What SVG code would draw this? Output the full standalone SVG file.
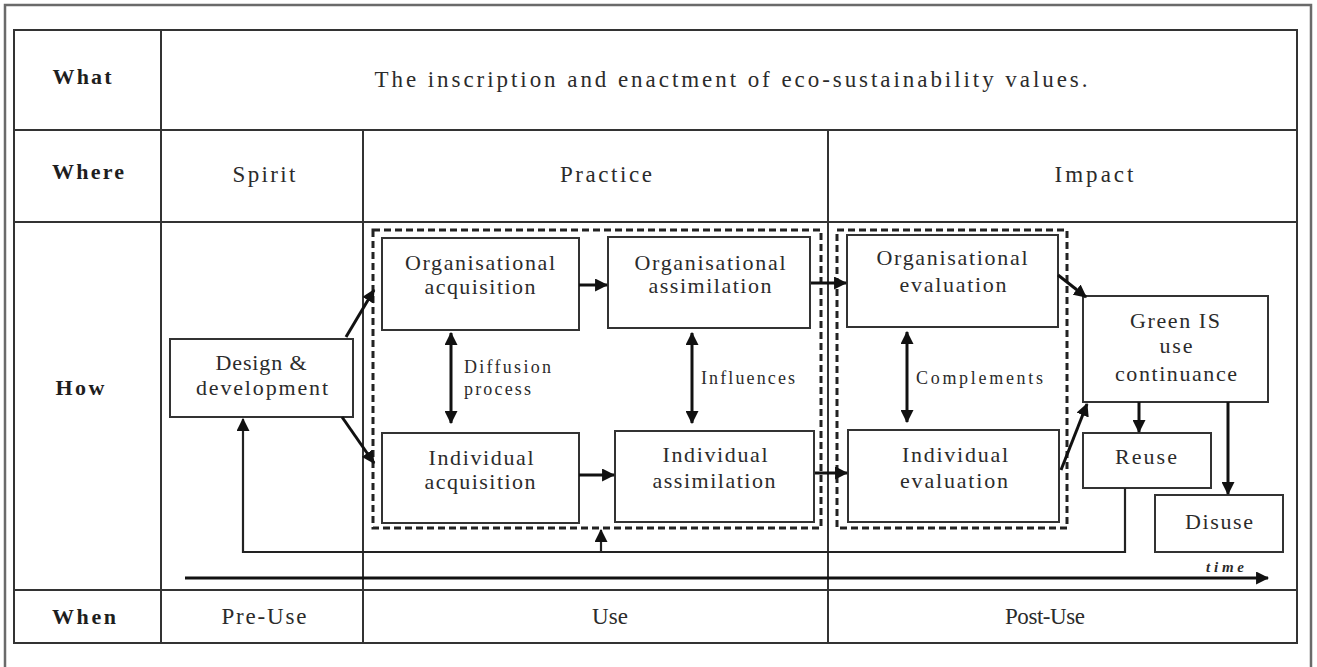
<svg xmlns="http://www.w3.org/2000/svg" width="1317" height="667" viewBox="0 0 1317 667">
  <style>
    .frame { fill: none; stroke: #6a6a6a; stroke-width: 2.5; }
    .grid { fill: none; stroke: #333; stroke-width: 2; }
    .box { fill: #fff; stroke: #333; stroke-width: 2; }
    .dash { fill: none; stroke: #222; stroke-width: 3; stroke-dasharray: 7 4; }
    .arrow { fill: none; stroke: #111; stroke-width: 3; }
    .thin { fill: none; stroke: #222; stroke-width: 2.2; }
    text { font-family: "Liberation Serif", "Times New Roman", serif; fill: #2b2b2b; text-anchor: middle; }
    .head { font-size: 22px; font-weight: bold; fill: #1e1e1e; }
    .cell { font-size: 23px; }
    .node { font-size: 22px; }
    .lbl { font-size: 18px; text-anchor: start; }
    .time { font-size: 15px; font-style: italic; font-weight: bold; }
  </style>
  <defs>
    <marker id="head" viewBox="0 0 12 12" refX="11" refY="6" markerWidth="13" markerHeight="13" markerUnits="userSpaceOnUse" orient="auto-start-reverse">
      <path d="M0,0 L12,6 L0,12 z" fill="#111"/>
    </marker>
  </defs>

  <rect width="1317" height="667" fill="#fff"/>

  <!-- outer frame and table grid -->
  <g id="table">
    <path class="frame" d="M5,672 V5 H1311 V672"/>
    <rect class="grid" x="14" y="30" width="1283" height="613"/>
    <line class="grid" x1="14" y1="130" x2="1297" y2="130"/>
    <line class="grid" x1="14" y1="222" x2="1297" y2="222"/>
    <line class="grid" x1="14" y1="590" x2="1297" y2="590"/>
    <line class="grid" x1="161" y1="30" x2="161" y2="643"/>
    <line class="grid" x1="363" y1="130" x2="363" y2="643"/>
    <line class="grid" x1="828" y1="130" x2="828" y2="643"/>
  </g>

  <!-- row headings -->
  <g id="row-labels">
    <text class="head" x="82" y="84" textLength="59" lengthAdjust="spacing">What</text>
    <text class="head" x="88" y="179" textLength="72" lengthAdjust="spacing">Where</text>
    <text class="head" x="80" y="395" textLength="49" lengthAdjust="spacing">How</text>
    <text class="head" x="84" y="624" textLength="64" lengthAdjust="spacing">When</text>
  </g>

  <!-- cell texts -->
  <g id="cells">
    <text class="cell" x="731" y="87" textLength="713" lengthAdjust="spacing">The inscription and enactment of eco-sustainability values.</text>
    <text class="cell" x="264" y="182" textLength="63" lengthAdjust="spacing">Spirit</text>
    <text class="cell" x="606" y="182" textLength="92" lengthAdjust="spacing">Practice</text>
    <text class="cell" x="1094" y="182" textLength="79" lengthAdjust="spacing">Impact</text>
    <text class="cell" x="264" y="624" textLength="85" lengthAdjust="spacing">Pre-Use</text>
    <text class="cell" x="610" y="624" textLength="36" lengthAdjust="spacing">Use</text>
    <text class="cell" x="1045" y="624" textLength="80" lengthAdjust="spacing">Post-Use</text>
  </g>

  <!-- dashed groupings -->
  <g id="practice-group">
    <rect class="dash" x="373" y="230" width="448" height="298"/>
  </g>
  <g id="impact-group">
    <rect class="dash" x="837" y="230" width="230" height="298"/>
  </g>

  <!-- nodes -->
  <g id="design">
    <rect class="box" x="170" y="339" width="183" height="78"/>
    <text class="node" x="261" y="370" textLength="91" lengthAdjust="spacing">Design &amp;</text>
    <text class="node" x="262" y="395" textLength="132" lengthAdjust="spacing">development</text>
  </g>
  <g id="org-acquisition">
    <rect class="box" x="382" y="238" width="197" height="92"/>
    <text class="node" x="480" y="270" textLength="150" lengthAdjust="spacing">Organisational</text>
    <text class="node" x="480" y="294" textLength="111" lengthAdjust="spacing">acquisition</text>
  </g>
  <g id="org-assimilation">
    <rect class="box" x="608" y="237" width="202" height="91"/>
    <text class="node" x="710" y="270" textLength="151" lengthAdjust="spacing">Organisational</text>
    <text class="node" x="710" y="293" textLength="123" lengthAdjust="spacing">assimilation</text>
  </g>
  <g id="ind-acquisition">
    <rect class="box" x="382" y="433" width="197" height="90"/>
    <text class="node" x="481" y="465" textLength="105" lengthAdjust="spacing">Individual</text>
    <text class="node" x="480" y="489" textLength="111" lengthAdjust="spacing">acquisition</text>
  </g>
  <g id="ind-assimilation">
    <rect class="box" x="615" y="431" width="199" height="91"/>
    <text class="node" x="715" y="462" textLength="105" lengthAdjust="spacing">Individual</text>
    <text class="node" x="714" y="488" textLength="123" lengthAdjust="spacing">assimilation</text>
  </g>
  <g id="org-evaluation">
    <rect class="box" x="847" y="235" width="211" height="92"/>
    <text class="node" x="952" y="265" textLength="151" lengthAdjust="spacing">Organisational</text>
    <text class="node" x="953" y="292" textLength="107" lengthAdjust="spacing">evaluation</text>
  </g>
  <g id="ind-evaluation">
    <rect class="box" x="848" y="430" width="211" height="92"/>
    <text class="node" x="955" y="462" textLength="106" lengthAdjust="spacing">Individual</text>
    <text class="node" x="954" y="488" textLength="108" lengthAdjust="spacing">evaluation</text>
  </g>
  <g id="green-is">
    <rect class="box" x="1083" y="296" width="185" height="106"/>
    <text class="node" x="1175" y="328" textLength="90" lengthAdjust="spacing">Green IS</text>
    <text class="node" x="1176" y="353" textLength="33" lengthAdjust="spacing">use</text>
    <text class="node" x="1176" y="381" textLength="122" lengthAdjust="spacing">continuance</text>
  </g>
  <g id="reuse">
    <rect class="box" x="1083" y="433" width="128" height="55"/>
    <text class="node" x="1146" y="464" textLength="62" lengthAdjust="spacing">Reuse</text>
  </g>
  <g id="disuse">
    <rect class="box" x="1155" y="495" width="128" height="57"/>
    <text class="node" x="1219" y="529" textLength="68" lengthAdjust="spacing">Disuse</text>
  </g>

  <!-- connectors -->
  <g id="connectors">
    <line class="arrow" x1="346" y1="337" x2="374" y2="290" marker-end="url(#head)"/>
    <line class="arrow" x1="342" y1="417" x2="374" y2="463" marker-end="url(#head)"/>
    <line class="arrow" x1="579" y1="285" x2="607" y2="285" marker-end="url(#head)"/>
    <line class="arrow" x1="579" y1="475" x2="614" y2="475" marker-end="url(#head)"/>
    <line class="arrow" x1="451" y1="333" x2="451" y2="423" marker-start="url(#head)" marker-end="url(#head)"/>
    <line class="arrow" x1="692" y1="333" x2="692" y2="423" marker-start="url(#head)" marker-end="url(#head)"/>
    <line class="arrow" x1="907" y1="332" x2="907" y2="422" marker-start="url(#head)" marker-end="url(#head)"/>
    <line class="arrow" x1="811" y1="283" x2="846" y2="283" marker-end="url(#head)"/>
    <line class="arrow" x1="815" y1="473" x2="847" y2="473" marker-end="url(#head)"/>
    <line class="arrow" x1="1058" y1="275" x2="1086" y2="297" marker-end="url(#head)"/>
    <line class="arrow" x1="1061" y1="470" x2="1087" y2="404" marker-end="url(#head)"/>
    <line class="arrow" x1="1139" y1="402" x2="1139" y2="432" marker-end="url(#head)"/>
    <line class="arrow" x1="1228" y1="402" x2="1228" y2="494" marker-end="url(#head)"/>
    <polyline class="thin" points="1125,488 1125,552 243,552 243,419" marker-end="url(#head)"/>
    <line class="thin" x1="601" y1="552" x2="601" y2="530" marker-end="url(#head)"/>
    <line class="arrow" x1="185" y1="578" x2="1268" y2="578" marker-end="url(#head)"/>
  </g>

  <!-- connector labels -->
  <g id="labels">
    <text class="lbl" x="464" y="373" textLength="87" lengthAdjust="spacing">Diffusion</text>
    <text class="lbl" x="464" y="395" textLength="67" lengthAdjust="spacing">process</text>
    <text class="lbl" x="701" y="384" textLength="94" lengthAdjust="spacing">Influences</text>
    <text class="lbl" x="916" y="384" textLength="127" lengthAdjust="spacing">Complements</text>
    <text class="time" x="1225" y="572" textLength="38" lengthAdjust="spacing">time</text>
  </g>
</svg>
